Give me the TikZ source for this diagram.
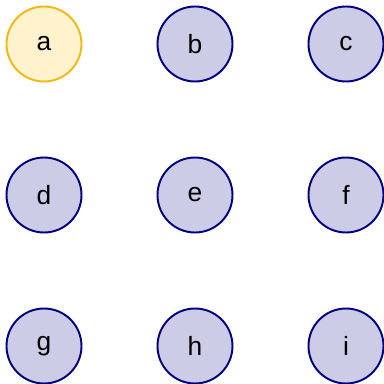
\documentclass[tikz,border=0pt]{standalone}
\usepackage{fontspec}
\setmainfont{Liberation Sans}

\definecolor{knotenfill}{RGB}{204,204,230}
\definecolor{knotenrand}{RGB}{0,0,128}
\definecolor{startfill}{RGB}{255,242,204}
\definecolor{startrand}{RGB}{240,185,20}

\begin{document}
\begin{tikzpicture}[
    line width=1.1pt,
    knoten/.style={circle, draw=knotenrand, fill=knotenfill, minimum size=1.5cm,
        inner sep=0pt, font=\fontsize{15}{18}\selectfont},
    start/.style={knoten, draw=startrand, fill=startfill}
]

% --- Rahmen ---
\useasboundingbox (0, 0) rectangle (7.68, 7.68);

% --- Obere Reihe ---
\node[start]  (a) at (0.88, 6.80) {a};
\node[knoten] (b) at (3.90, 6.80) {b};
\node[knoten] (c) at (6.92, 6.80) {c};

% --- Mittlere Reihe ---
\node[knoten] (d) at (0.88, 3.78) {d};
\node[knoten] (e) at (3.90, 3.78) {e};
\node[knoten] (f) at (6.92, 3.78) {f};

% --- Untere Reihe ---
\node[knoten] (g) at (0.88, 0.76) {g};
\node[knoten] (h) at (3.90, 0.76) {h};
\node[knoten] (i) at (6.92, 0.76) {i};

\end{tikzpicture}
\end{document}
